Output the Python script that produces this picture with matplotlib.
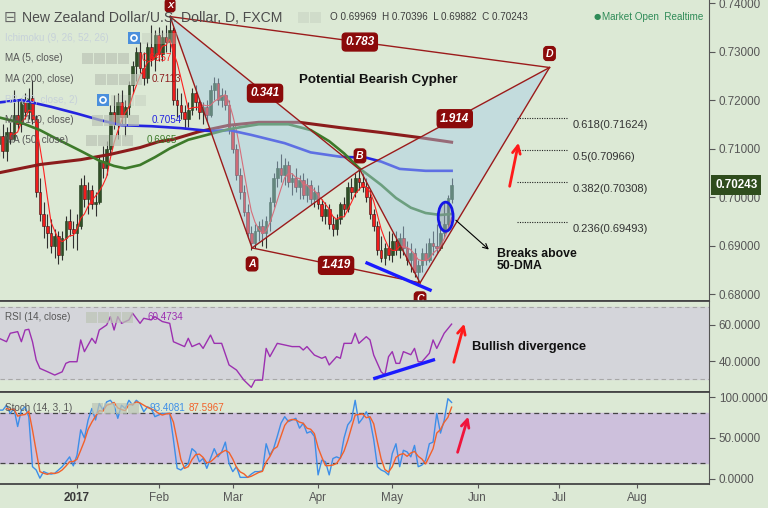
import numpy as np
import pandas as pd
import matplotlib
matplotlib.use("Agg")
import matplotlib.pyplot as plt
from matplotlib import font_manager
from matplotlib.patches import Polygon, Ellipse, Rectangle

# NZD/USD daily (FXCM), 2 Dec 2016 - 23 May 2017
first_day = "2016-12-02"
last_day = "2017-05-23"
axis_end = "2017-08-31"

opens = [
    .7110, .7125, .7095, .7135, .7120, .7170, .7150, .7195, .7175, .7205, .7160,
    .7010, .6965, .6940, .6925, .6900, .6920, .6880, .6915, .6950, .6935,
    .6925, .6940, .7025, .6995, .7015, .6985, .6990, .7075, .7060, .7100, .7175,
    .7150, .7195, .7165, .7185, .7230, .7270, .7300, .7265, .7245, .7310, .7285,
    .7335, .7295, .7330, .7320, .7345, .7200, .7190, .7175, .7160, .7180,
    .7215, .7195, .7175, .7185, .7170, .7220, .7235, .7200, .7210, .7190,
    .7140, .7100, .7045, .7010, .6970, .6925, .6905, .6930, .6940, .6925, .6950, .6990,
    .7040, .7060, .7045, .7065, .7030, .7040, .7020, .7035, .7005, .7025, .6995,
    .7010, .6985, .6960, .6975, .6945, .6935, .6955, .6985, .6975, .7020,
    .7010, .7040, .7030, .7020, .7000, .6965, .6940, .6890, .6875, .6895,
    .6880, .6910, .6890, .6915, .6895, .6870, .6885, .6845, .6860,
    .6885, .6870, .6905, .6900, .6895, .6925, .6945, .69969,
]
highs = [
    .7140, .7150, .7145, .7155, .7220, .7200, .7205, .7215, .7225, .7242, .7170,
    .7040, .6990, .6965, .6955, .6935, .6930, .6930, .6960, .6975, .6950,
    .6965, .7040, .7045, .7030, .7025, .7010, .7085, .7105, .7115, .7190, .7210,
    .7215, .7220, .7200, .7240, .7280, .7310, .7320, .7300, .7320, .7355, .7345,
    .7350, .7345, .7355, .7375, .7350, .7225, .7215, .7190, .7195, .7225,
    .7230, .7205, .7195, .7200, .7230, .7248, .7245, .7225, .7220, .7200,
    .7150, .7110, .7060, .7025, .6985, .6940, .6945, .6950, .6955, .6960, .7000, .7050,
    .7075, .7088, .7080, .7075, .7050, .7060, .7045, .7050, .7040, .7035, .7020,
    .7025, .6995, .6990, .6985, .6960, .6965, .6990, .7000, .7030, .7040,
    .7050, .7057, .7050, .7040, .7015, .6975, .6950, .6920, .6905, .6930,
    .6925, .6930, .6925, .6940, .6910, .6905, .6895, .6870, .6895,
    .6905, .6915, .6930, .6945, .6950, .6990, .7005, .70396,
]
lows = [
    .7085, .7080, .7075, .7110, .7115, .7140, .7135, .7160, .7160, .7150, .7000,
    .6950, .6915, .6895, .6885, .6875, .6862, .6870, .6890, .6920, .6895,
    .6890, .6935, .6980, .6965, .6975, .6960, .6985, .7040, .7045, .7090, .7140,
    .7120, .7150, .7125, .7170, .7215, .7240, .7255, .7230, .7235, .7270, .7260,
    .7280, .7280, .7300, .7300, .7190, .7165, .7160, .7140, .7145, .7170,
    .7180, .7160, .7150, .7155, .7165, .7200, .7190, .7185, .7180, .7130,
    .7090, .7035, .6995, .6960, .6915, .6890, .6895, .6910, .6900, .6895, .6930, .6980,
    .7020, .7030, .7025, .7020, .7005, .7010, .6995, .6995, .6990, .6985, .6980,
    .6975, .6950, .6945, .6935, .6920, .6922, .6945, .6960, .6970, .6995,
    .7000, .7015, .7010, .6990, .6955, .6930, .6880, .6866, .6860, .6870,
    .6865, .6880, .6875, .6880, .6860, .6845, .6835, .6818, .6845,
    .6860, .6865, .6880, .6885, .6890, .6915, .6935, .69882,
]
closes = [
    .7125, .7095, .7135, .7120, .7170, .7150, .7195, .7175, .7205, .7160, .7010,
    .6965, .6940, .6925, .6900, .6920, .6880, .6915, .6950, .6935, .6925,
    .6945, .7025, .6995, .7015, .6985, .6990, .7075, .7060, .7100, .7175, .7150,
    .7195, .7165, .7185, .7230, .7270, .7300, .7265, .7245, .7310, .7285, .7335,
    .7295, .7330, .7320, .7345, .7200, .7190, .7175, .7160, .7180, .7215,
    .7195, .7175, .7185, .7170, .7220, .7235, .7200, .7210, .7190, .7140,
    .7100, .7045, .7010, .6970, .6925, .6905, .6930, .6940, .6925, .6950, .6990, .7040,
    .7060, .7045, .7065, .7030, .7040, .7020, .7035, .7005, .7025, .6995, .7010,
    .6985, .6960, .6975, .6945, .6935, .6955, .6985, .6975, .7020, .7010,
    .7040, .7030, .7020, .7000, .6965, .6940, .6890, .6875, .6895, .6880,
    .6910, .6890, .6915, .6895, .6870, .6885, .6845, .6860, .6885,
    .6870, .6905, .6900, .6895, .6925, .6945, .6997, .70243,
]

# long moving averages, sampled; bar = trading days from 2 Jan 2017
ma200_bar = [-21, -10, 1, 9, 17, 22, 26, 33, 41, 49, 60, 71, 82, 92, 101]
ma200_val = [.7050, .7067, .7077, .7088, .7102, .7114, .7119, .7135, .7148, .7154,
             .7154, .7143, .7133, .7123, .7113]
ma100_bar = [-21, -15, -7, 0, 6, 12, 20, 28, 36, 41, 47, 56, 63, 71, 78, 82, 87, 94, 101]
ma100_val = [.7195, .7200, .7186, .7172, .7159, .7148, .7146, .7142, .7136, .7138, .7128,
             .7111, .7092, .7083, .7081, .7073, .7058, .7054, .7054]
ma50_bar = [-21, -15, -10, -5, 1, 6, 10, 13, 17, 21, 25, 30, 36, 41, 49, 57, 63, 68,
            72, 76, 82, 86, 90, 94, 98, 101]
ma50_val = [.7164, .7153, .7138, .7118, .7095, .7075, .7064, .7059, .7066, .7082, .7100,
            .7118, .7130, .7140, .7150, .7150, .7138, .7115, .7090, .7060, .7025, .6998,
            .6978, .6967, .6963, .6965]

rsi_bar = [-21, -19, -18, -16, -15, -14, -13, -12, -11, -10, -8, -6, -4, -3, -2, 0,
           1, 2, 4, 5, 6, 8, 9, 10, 11, 12, 14, 15, 17, 18, 20, 21, 23, 25, 26, 27,
           29, 30, 31, 33, 34, 36, 37, 39, 41, 43, 45, 47, 48, 50, 51, 52, 54, 56,
           58, 60, 61, 62, 64, 66, 67, 68, 70, 71, 72, 74, 75, 76, 78, 79, 80, 82,
           83, 84, 85, 86, 87, 88, 90, 91, 92, 93, 95, 96, 97, 99, 101]
rsi_val = [52.6, 50.7, 55.4, 56.3, 50.7, 57.2, 57.6, 50.7, 40.6, 35.9, 34.1, 32.2,
           34.0, 38.7, 39.6, 39.6, 51.7, 45.2, 52.6, 49.8, 57.2, 60.0, 64.6, 57.2,
           64.6, 60.9, 62.8, 66.5, 60.9, 63.7, 62.8, 64.6, 61.9, 60.9, 50.7, 49.8,
           48.0, 52.6, 48.0, 49.8, 47.0, 54.4, 49.8, 49.8, 37.8, 35.0, 29.4, 25.4,
           29.4, 29.4, 47.0, 42.4, 49.8, 48.9, 48.0, 48.0, 46.1, 48.0, 43.3, 41.5,
           42.4, 37.8, 42.4, 41.5, 49.8, 49.8, 55.4, 49.8, 53.5, 51.7, 43.3, 34.0,
           32.2, 42.4, 45.2, 38.7, 38.7, 45.2, 43.5, 47.0, 39.6, 39.6, 44.3, 51.7,
           47.0, 55.4, 60.4734]

stoch_k = [
    84, 84, 90, 80, 86, 64, 84, 88, 76, 15, 11, 1, 9, 7, 6, 7, 11, 15, 21, 27, 16,
    29, 60, 50, 72, 86, 72, 92, 84, 94, 96, 90, 74, 90, 86, 96, 90, 96, 92, 82, 88, 86, 76,
    78, 80, 80, 80, 48, 13, 11, 15, 19, 37, 33, 21, 25, 13, 25, 37, 27, 33, 45, 19,
    9, 15, 2, 2, 2, 6, 9, 9, 10, 43, 29, 37, 52, 68, 76, 70, 72, 74, 62, 68, 56, 58, 52,
    5, 23, 21, 5, 25, 27, 25, 50, 66, 72, 96, 68, 74, 82, 72, 48, 15, 11, 9, 5,
    31, 43, 15, 35, 33, 27, 41, 15, 17, 23, 43, 45, 80, 56, 71.402, 97.98, 93.4081,
]

# bearish Cypher pattern (bar, price) and annotations
pattern_names = ["X", "A", "B", "C", "D"]
pattern_bar = [25.1, 47.2, 76.3, 92.5, 127.4]
pattern_price = [0.7372, 0.6895, 0.7056, 0.6823, 0.7267]
ratio_legs = [("X", "B", "0.341"), ("X", "D", "0.783"), ("B", "D", "1.914"), ("A", "C", "1.419")]
fib_ratio = [0.618, 0.5, 0.382, 0.236]
fib_price = [0.71624, 0.70966, 0.70308, 0.69493]

# fonts: condensed Arial look if available
names = {f.name for f in font_manager.fontManager.ttflist}
narrow = "Liberation Sans Narrow" in names
BASE = "Liberation Sans Narrow" if narrow else "Liberation Sans"
K = 1.0 if narrow else 0.84
plt.rcParams["font.family"] = [BASE, "DejaVu Sans"]

BG = "#dce9d5"
GREY = "#575757"
LINE = "#9b1b1b"

dates = pd.bdate_range(first_day, last_day)
OFF = list(dates).index(pd.Timestamp("2017-01-02"))
pos = np.arange(len(dates))
o, h, l, c = map(np.array, (opens, highs, lows, closes))

fig = plt.figure(figsize=(7.68, 5.08), dpi=100, facecolor=BG)


def rect(top, bottom):
    return [0, 1 - bottom / 508, 709 / 768, (bottom - top) / 508]


ax = fig.add_axes(rect(0, 301))
ax_rsi = fig.add_axes(rect(301, 392))
ax_st = fig.add_axes(rect(392, 484))
for a in (ax, ax_rsi, ax_st):
    a.set_facecolor(BG)
    a.set_xlim(0.24, 191.4)
    a.yaxis.tick_right()
    a.tick_params(axis="y", direction="out", length=4, width=0.8, colors=GREY,
                  labelsize=10 * K, pad=3)
    a.spines["left"].set_visible(False)
    a.spines["right"].set_color("#555555")
    for s in ("top", "bottom"):
        a.spines[s].set_color("#454545")
        a.spines[s].set_linewidth(1.3)
ax.spines["top"].set_visible(False)
for a in (ax, ax_rsi):
    a.tick_params(axis="x", bottom=False, labelbottom=False)

# ---- price panel ----
ax.set_ylim(0.67856, 0.74062)
ax.set_yticks(np.arange(0.68, 0.7401, 0.01))
ax.yaxis.set_major_formatter(matplotlib.ticker.FormatStrFormatter("%.5f"))

up = c >= o
ax.vlines(pos, l, h, color="#303030", lw=0.8, zorder=2)
ax.bar(pos[up], (c - o)[up], bottom=o[up], width=0.72, color="#2f4f26",
       edgecolor="#22391c", lw=0.4, zorder=2.1)
ax.bar(pos[~up], (o - c)[~up], bottom=c[~up], width=0.72, color="#f01c1c",
       edgecolor="#3b1010", lw=0.4, zorder=2.1)

ma5 = pd.Series(closes).rolling(5).mean()
ax.plot(pos, ma5, color="#ff2020", lw=0.8, zorder=3)
ax.plot(np.array(ma200_bar) + OFF, ma200_val, color="#8b1c1c", lw=2.2, zorder=3)
ax.plot(np.array(ma100_bar) + OFF, ma100_val, color="#2424e0", lw=1.9, zorder=3)
ax.plot(np.array(ma50_bar) + OFF, ma50_val, color="#3d7a2a", lw=1.9, zorder=3)

pts = {n: (b + OFF, p) for n, b, p in zip(pattern_names, pattern_bar, pattern_price)}
for tri in (("X", "A", "B"), ("B", "C", "D")):
    ax.add_patch(Polygon([pts[n] for n in tri], closed=True, fc="#a6cde8",
                         alpha=0.45, ec="none", zorder=4))
for a_, b_ in [("X", "A"), ("A", "B"), ("X", "B"), ("B", "C"), ("C", "D"),
               ("B", "D"), ("X", "D"), ("A", "C")]:
    ax.plot([pts[a_][0], pts[b_][0]], [pts[a_][1], pts[b_][1]], color=LINE, lw=1, zorder=5)

box = dict(boxstyle="round,pad=0.25,rounding_size=0.3", fc="#8b0a0a", ec="#8b0a0a")
for a_, b_, txt in ratio_legs:
    mx = (pts[a_][0] + pts[b_][0]) / 2
    my = (pts[a_][1] + pts[b_][1]) / 2
    ax.text(mx, my, txt, color="white", fontsize=10 * K, weight="bold", style="italic",
            ha="center", va="center", bbox=box, zorder=6)
for n in pattern_names:
    dy = {"X": 11}.get(n, 14 if n in ("B", "D") else -16)
    fs = 8 * K if n == "X" else 9 * K
    ax.annotate(n, pts[n], xytext=(0, dy), textcoords="offset pixels", ha="center",
                va="center", color="white", fontsize=fs, weight="bold", style="italic",
                bbox=dict(boxstyle="round,pad=0.18,rounding_size=0.3", fc="#8b0a0a", ec="#8b0a0a"),
                zorder=6, annotation_clip=False)

ax.text(102.2, 0.7241, "Potential Bearish Cypher", fontsize=11.5 * K, weight="bold",
        color="#111111", ha="center", va="center", zorder=6)

for r, p in zip(fib_ratio, fib_price):
    ax.plot([139.6, 153.4], [p, p], color="#222222", lw=0.8, ls=(0, (1, 1.2)), zorder=5)
    ax.annotate(f"{r:g}({p:.5f})", (154.7, p), xytext=(0, -2), textcoords="offset pixels",
                fontsize=9.5 * K, color="#333333", va="top", ha="left", zorder=6)

# divergence / breakout marks
ax.plot([99.2, 116.2], [0.68639, 0.68082], color="#1a1aff", lw=2.4, zorder=6)
ax.add_patch(Ellipse((120.4, 0.69594), 4.0, 0.0060, fc=(0.5, 0.5, 0.55, 0.25),
                     ec="#1515e6", lw=2, zorder=6))
ax.annotate("", xy=(132.6, 0.68879), xytext=(122.6, 0.69559),
            arrowprops=dict(arrowstyle="->", color="black", lw=0.8, mutation_scale=9), zorder=6)
ax.text(134.2, 0.6895, "Breaks above\n50-DMA", fontsize=10.5 * K, weight="bold",
        color="#111111", ha="left", va="top", linespacing=1.05, zorder=6)
ax.annotate("", xy=(140.2, 0.71175), xytext=(137.5, 0.70165),
            arrowprops=dict(arrowstyle="->", color="#ff1a1a", lw=2, mutation_scale=14), zorder=6)

ax.annotate(f"{closes[-1]:.5f}", xy=(1, closes[-1]), xycoords=("axes fraction", "data"),
            xytext=(6, 0), textcoords="offset pixels", ha="left", va="center",
            color="white", weight="bold", fontsize=10 * K, zorder=20, annotation_clip=False,
            bbox=dict(boxstyle="square,pad=0.35", fc="#2f4d1d", ec="none"))

# ---- RSI panel ----
ax_rsi.set_ylim(22.8, 73.3)
ax_rsi.set_yticks([40, 60])
ax_rsi.yaxis.set_major_formatter(matplotlib.ticker.FormatStrFormatter("%.4f"))
ax_rsi.axhspan(30, 70, color="#d4d5da", zorder=0)
for lv in (30, 70):
    ax_rsi.axhline(lv, color="#a8a8a8", lw=0.8, ls=(0, (4, 3)), zorder=1)
ax_rsi.plot(np.array(rsi_bar) + OFF, rsi_val, color="#9c30b0", lw=1, zorder=3)
ax_rsi.plot([101.3, 117.1], [30.4, 40.6], color="#1a1aff", lw=2.4, zorder=4)
ax_rsi.annotate("", xy=(125.6, 62.2), xytext=(122.4, 37.8),
                arrowprops=dict(arrowstyle="->", color="#ff1a1a", lw=2, mutation_scale=14))
ax_rsi.text(127.5, 47.9, "Bullish divergence", fontsize=11 * K, weight="bold",
            color="#111111", ha="left", va="center")

# ---- Stochastic panel ----
ax_st.set_ylim(-6.1, 106.1)
ax_st.set_yticks([0, 50, 100])
ax_st.yaxis.set_major_formatter(matplotlib.ticker.FormatStrFormatter("%.4f"))
ax_st.axhspan(20, 80, color="#cdc0dc", zorder=0)
for lv in (20, 80):
    ax_st.axhline(lv, color="#444444", lw=0.9, ls=(0, (4, 3)), zorder=1)
stoch_d = pd.Series(stoch_k).rolling(3).mean()
ax_st.plot(pos, stoch_k, color="#3d8ee8", lw=1, zorder=3)
ax_st.plot(pos, stoch_d, color="#f2612a", lw=1, zorder=3)
ax_st.annotate("", xy=(126.7, 79.3), xytext=(123.4, 29.3),
               arrowprops=dict(arrowstyle="->", color="#f0143c", lw=2, mutation_scale=14))

full = pd.bdate_range(first_day, axis_end)
starts = [i for i in range(1, len(full)) if full[i].month != full[i - 1].month]
ax_st.set_xticks(starts)
ax_st.set_xticklabels([str(full[i].year) if full[i].month == 1 else full[i].strftime("%b")
                       for i in starts])
ax_st.tick_params(axis="x", direction="out", length=3, colors=GREY, labelsize=10 * K, pad=3)
for t in ax_st.get_xticklabels():
    if t.get_text() == "2017":
        t.set_fontweight("bold")
        t.set_color("#3a3a3a")

# ---- header and indicator legend (pixel overlay) ----
ov = fig.add_axes([0, 0, 1, 1], zorder=10)
ov.set_xlim(0, 768)
ov.set_ylim(508, 0)
ov.axis("off")
ov.patch.set_alpha(0)


def buttons(x, y, n, faint=False):
    for k in range(n):
        ov.add_patch(Rectangle((x + k * 12, y - 5.5), 11, 11, fc="#bcc5b6",
                               alpha=0.35 if faint else 0.7, ec="none"))


def blue_icon(x, y):
    ov.add_patch(Rectangle((x, y - 6), 12, 12, fc="#4a8fdc", ec="none"))
    ov.add_patch(Ellipse((x + 6, y), 6, 6, fc="none", ec="white", lw=1.2))


ov.text(4, 17, "⊟", fontsize=11, color="#666666", va="center", family="DejaVu Sans")
ov.text(22, 18, "New Zealand Dollar/U.S. Dollar, D, FXCM", fontsize=12 * K,
        color="#4d4d4d", va="center")
buttons(298, 17, 2, faint=True)
ov.text(330, 17, f"O {opens[-1]:.5f}  H {highs[-1]:.5f}  L {lows[-1]:.5f}  C {closes[-1]:.5f}",
        fontsize=8.5 * K, color="#3c3c3c", va="center")
ov.text(594, 17, "●", fontsize=6, color="#2e8b57", va="center", family="DejaVu Sans")
ov.text(602, 17, "Market Open  Realtime", fontsize=8.5 * K, color="#2e8b57", va="center")

ov.text(5, 38, "Ichimoku (9, 26, 52, 26)", fontsize=8.5 * K, color="#c6d1d9", va="center")
blue_icon(128, 38)
buttons(142, 38, 3, faint=True)
ov.text(5, 58, "MA (5, close)", fontsize=8.5 * K, color=GREY, va="center")
buttons(82, 58, 4)
ov.text(142, 58, f"{ma5.iloc[-1]:.4f}", fontsize=8.5 * K, color="#ff2020", va="center")
ov.text(5, 79, "MA (200, close)", fontsize=8.5 * K, color=GREY, va="center")
buttons(95, 79, 4)
ov.text(152, 79, f"{ma200_val[-1]:.4f}", fontsize=8.5 * K, color="#8b1c1c", va="center")
ov.text(5, 100, "BB (20, close, 2)", fontsize=8.5 * K, color="#c6d1d9", va="center")
blue_icon(97, 100)
buttons(111, 100, 3, faint=True)
ov.text(5, 120, "MA (100, close)", fontsize=8.5 * K, color=GREY, va="center")
buttons(92, 120, 4)
ov.text(152, 120, f"{ma100_val[-1]:.4f}", fontsize=8.5 * K, color="#2424e0", va="center")
ov.text(5, 140, "MA (50, close)", fontsize=8.5 * K, color=GREY, va="center")
buttons(86, 140, 4)
ov.text(147, 140, f"{ma50_val[-1]:.4f}", fontsize=8.5 * K, color="#3d7a2a", va="center")

ov.text(5, 317, "RSI (14, close)", fontsize=8.5 * K, color=GREY, va="center")
buttons(86, 317, 4)
ov.text(147, 317, f"{rsi_val[-1]:.4f}", fontsize=8.5 * K, color="#9c30b0", va="center")
ov.text(5, 408, "Stoch (14, 3, 1)", fontsize=8.5 * K, color=GREY, va="center")
buttons(92, 408, 4)
ov.text(150, 408, f"{stoch_k[-1]:.4f}", fontsize=8.5 * K, color="#3d8ee8", va="center")
ov.text(189, 408, f"{stoch_d.iloc[-1]:.4f}", fontsize=8.5 * K, color="#f2612a", va="center")

fig.savefig("out.png", dpi=100, facecolor=BG)
